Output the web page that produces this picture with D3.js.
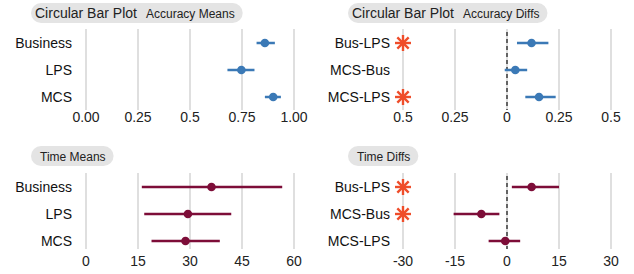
<!DOCTYPE html>
<html>
<head>
<meta charset="utf-8">
<script src="https://cdn.jsdelivr.net/npm/d3@7"></script>
<style>
  body { margin: 0; background: #fff; }
  svg { font-family: "Liberation Sans", Arial, sans-serif; }
</style>
</head>
<body>
<svg id="chart" width="634" height="274"></svg>
<script>
// ---- data ----
var meanCats = ['Business', 'LPS', 'MCS'];
var diffCats = ['Bus-LPS', 'MCS-Bus', 'MCS-LPS'];

var accMean = [0.86, 0.747, 0.90];
var accMeanLo = [0.82, 0.68, 0.86];
var accMeanHi = [0.908, 0.81, 0.937];

var accDiff = [0.118, 0.04, 0.154];
var accDiffLo = [0.048, -0.011, 0.088];
var accDiffHi = [0.199, 0.097, 0.234];
var accDiffSig = [true, false, true];

var timeMean = [36.2, 29.4, 28.7];
var timeMeanLo = [16.1, 16.8, 18.9];
var timeMeanHi = [56.6, 41.9, 38.6];

var timeDiff = [7.1, -7.4, -0.5];
var timeDiffLo = [1.4, -15.4, -5.3];
var timeDiffHi = [15.0, -2.2, 3.8];
var timeDiffSig = [true, true, false];

var accMeanTicks = [0, 0.25, 0.5, 0.75, 1];
var accMeanTickLabels = ['0.00', '0.25', '0.5', '0.75', '1.00'];
var accDiffTicks = [-0.5, -0.25, 0, 0.25, 0.5];
var accDiffTickLabels = ['0.5', '0.25', '0', '0.25', '0.5'];
var timeMeanTicks = [0, 15, 30, 45, 60];
var timeDiffTicks = [-30, -15, 0, 15, 30];

var svg = d3.select('#chart');

var blue = '#3b79b6',
    wine = '#7d0d38',
    star = '#ef4d2a';

var panel = function(opt) {
    var g = svg.append('g').attr('transform', 'translate(' + opt.x + ',' + opt.y + ')');

    var x = d3.scaleLinear().domain(opt.domain).range([86, 294]);
    var y = d3.scalePoint().domain(opt.cats).range([0, 54]);

    // title pill
    var pill = g.append('g');
    var t1 = pill.append('text')
        .attr('x', opt.titleX).attr('y', opt.titleY)
        .style('font-size', opt.bigTitle ? '14px' : '12px')
        .attr('fill', '#222')
        .text(opt.bigTitle || opt.subtitle);
    if (opt.bigTitle) {
        pill.append('text')
            .attr('x', opt.titleX + 111).attr('y', opt.titleY)
            .style('font-size', '12px')
            .attr('fill', '#222')
            .text(opt.subtitle);
    }
    var bb = pill.node().getBBox();
    pill.insert('rect', 'text')
        .attr('x', 31).attr('y', opt.titleY - 15)
        .attr('width', bb.x + bb.width - 31 + 8)
        .attr('height', 20)
        .attr('rx', 10)
        .attr('fill', '#e4e4e4');

    // grid
    var plot = g.append('g').attr('transform', 'translate(0,' + opt.rowTop + ')');
    plot.selectAll('line.grid')
        .data(opt.ticks)
        .enter()
        .append('line')
        .attr('class', 'grid')
        .attr('x1', function(d) { return x(d); })
        .attr('x2', function(d) { return x(d); })
        .attr('y1', -14)
        .attr('y2', opt.gridBottom)
        .attr('stroke', '#d4d4d4')
        .attr('stroke-width', 1.5);

    if (opt.zero) {
        plot.append('line')
            .attr('x1', x(0)).attr('x2', x(0))
            .attr('y1', -11).attr('y2', opt.gridBottom)
            .attr('stroke', '#222')
            .attr('stroke-width', 1.3)
            .attr('stroke-dasharray', '4,3');
    }

    // axis labels
    plot.selectAll('text.tick')
        .data(opt.ticks)
        .enter()
        .append('text')
        .attr('class', 'tick')
        .attr('x', function(d) { return x(d); })
        .attr('y', opt.tickY)
        .attr('text-anchor', 'middle')
        .style('font-size', '14px')
        .attr('fill', '#222')
        .text(function(d, i) { return opt.tickLabels ? opt.tickLabels[i] : d; });

    plot.selectAll('text.cat')
        .data(opt.cats)
        .enter()
        .append('text')
        .attr('class', 'cat')
        .attr('x', opt.labelRight)
        .attr('y', function(d) { return y(d); })
        .attr('dy', '0.35em')
        .attr('text-anchor', 'end')
        .style('font-size', '14px')
        .attr('fill', '#111')
        .text(function(d) { return d; });

    var rows = opt.cats.map(function(c, i) {
        return { cat: c, v: opt.v[i], lo: opt.lo[i], hi: opt.hi[i], sig: opt.sig ? opt.sig[i] : false };
    });

    plot.selectAll('line.ci')
        .data(rows)
        .enter()
        .append('line')
        .attr('class', 'ci')
        .attr('x1', function(d) { return x(d.lo); })
        .attr('x2', function(d) { return x(d.hi); })
        .attr('y1', function(d) { return y(d.cat); })
        .attr('y2', function(d) { return y(d.cat); })
        .attr('stroke', opt.color)
        .attr('stroke-width', 2.5);

    plot.selectAll('circle')
        .data(rows)
        .enter()
        .append('circle')
        .attr('cx', function(d) { return x(d.v); })
        .attr('cy', function(d) { return y(d.cat); })
        .attr('r', 4.3)
        .attr('fill', opt.color);

    // significance stars on the leftmost gridline
    var stars = plot.selectAll('g.star')
        .data(rows.filter(function(d) { return d.sig; }))
        .enter()
        .append('g')
        .attr('class', 'star')
        .attr('transform', function(d) {
            return 'translate(' + x(opt.domain[0]) + ',' + y(d.cat) + ')';
        });
    [0, 45, 90, 135].forEach(function(a) {
        stars.append('line')
            .attr('x1', -8).attr('x2', 8)
            .attr('y1', 0).attr('y2', 0)
            .attr('transform', 'rotate(' + a + ')')
            .attr('stroke', star)
            .attr('stroke-width', 2.4);
    });
};

panel({ x: 0, y: 0, titleX: 35, titleY: 18, bigTitle: 'Circular Bar Plot', subtitle: 'Accuracy Means',
    cats: meanCats, domain: [0, 1], ticks: accMeanTicks, tickLabels: accMeanTickLabels,
    v: accMean, lo: accMeanLo, hi: accMeanHi, color: blue,
    rowTop: 43, gridBottom: 67, tickY: 79, labelRight: 72 });

panel({ x: 317, y: 0, titleX: 35, titleY: 18, bigTitle: 'Circular Bar Plot', subtitle: 'Accuracy Diffs',
    cats: diffCats, domain: [-0.5, 0.5], ticks: accDiffTicks, tickLabels: accDiffTickLabels,
    v: accDiff, lo: accDiffLo, hi: accDiffHi, sig: accDiffSig, color: blue, zero: true,
    rowTop: 43, gridBottom: 67, tickY: 79, labelRight: 73 });

panel({ x: 0, y: 137, titleX: 40, titleY: 24, subtitle: 'Time Means',
    cats: meanCats, domain: [0, 60], ticks: timeMeanTicks,
    v: timeMean, lo: timeMeanLo, hi: timeMeanHi, color: wine,
    rowTop: 50, gridBottom: 62, tickY: 79, labelRight: 72 });

panel({ x: 317, y: 137, titleX: 40, titleY: 24, subtitle: 'Time Diffs',
    cats: diffCats, domain: [-30, 30], ticks: timeDiffTicks,
    v: timeDiff, lo: timeDiffLo, hi: timeDiffHi, sig: timeDiffSig, color: wine, zero: true,
    rowTop: 50, gridBottom: 62, tickY: 79, labelRight: 73 });
</script>
</body>
</html>
